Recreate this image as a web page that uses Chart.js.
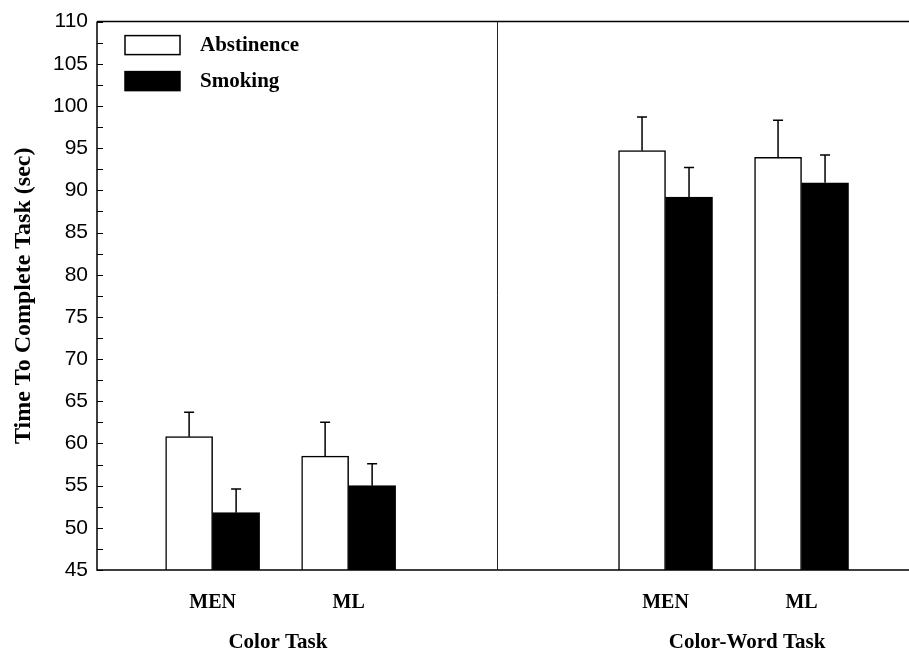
<!DOCTYPE html>
<html>
<head>
<meta charset="utf-8">
<script src="https://cdn.jsdelivr.net/npm/chart.js@4/dist/chart.umd.min.js"></script>
<style>
  html, body { margin: 0; padding: 0; background: #fff; }
  #wrap { width: 909px; height: 653px; }
</style>
</head>
<body>
<div id="wrap"><canvas id="chart" width="909" height="653"></canvas></div>
<script>
// data
const groups = ['MEN', 'ML'];
const tasks = ['Color Task', 'Color-Word Task'];
const abstinence = [60.8, 58.5, 94.7, 93.9];
const abstinenceErr = [2.9, 4.0, 4.0, 4.4];
const smoking = [51.8, 55.0, 89.2, 90.9];
const smokingErr = [2.8, 2.6, 3.5, 3.3];
const yMin = 45, yMax = 110, yStep = 5;

// layout (x positions on a linear axis, one unit = one group spacing)
const xMax = 5.97;
const groupPos = [0.85, 1.85, 4.18, 5.18];
const taskPos = [1.33, 4.78];
const dividerPos = 2.94;

const groupLabels = tasks.flatMap(() => groups);
const serif = '"Liberation Serif", "Times New Roman", serif';
const sans = '"Liberation Sans", Arial, sans-serif';

const framePlugin = {
  id: 'frame',
  afterDatasetsDraw(chart) {
    const { ctx, chartArea: a, scales } = chart;
    const y = scales.y, x = scales.x;
    ctx.save();
    ctx.strokeStyle = '#000';
    ctx.lineWidth = 1.5;
    // error bars (upward only)
    chart.data.datasets.forEach((ds, di) => {
      const meta = chart.getDatasetMeta(di);
      meta.data.forEach((bar, i) => {
        const top = y.getPixelForValue(ds.data[i].y + ds.errors[i]);
        ctx.beginPath();
        ctx.moveTo(bar.x, bar.y);
        ctx.lineTo(bar.x, top);
        ctx.moveTo(bar.x - 5, top);
        ctx.lineTo(bar.x + 5, top);
        ctx.stroke();
      });
    });
    // frame: left, bottom, top
    ctx.beginPath();
    ctx.moveTo(a.left, a.top);
    ctx.lineTo(a.left, a.bottom);
    ctx.lineTo(chart.width, a.bottom);
    ctx.moveTo(a.left, a.top);
    ctx.lineTo(chart.width, a.top);
    ctx.stroke();
    // inward ticks on y
    ctx.lineWidth = 1;
    for (let v = yMin; v <= yMax; v += yStep / 2) {
      const py = Math.round(y.getPixelForValue(v)) + 0.5;
      ctx.beginPath();
      ctx.moveTo(a.left, py);
      ctx.lineTo(a.left + 6, py);
      ctx.stroke();
    }
    // divider between tasks
    const dx = Math.round(x.getPixelForValue(dividerPos)) + 0.5;
    ctx.strokeStyle = '#222';
    ctx.beginPath();
    ctx.moveTo(dx, a.top);
    ctx.lineTo(dx, a.bottom);
    ctx.stroke();
    // legend
    ctx.font = 'bold 21px ' + serif;
    ctx.textBaseline = 'middle';
    chart.data.datasets.forEach((ds, di) => {
      const bx = a.left + 28, by = a.top + 14 + di * 36;
      ctx.fillStyle = ds.backgroundColor;
      ctx.fillRect(bx, by, 55, 19);
      ctx.lineWidth = 1.5;
      ctx.strokeStyle = '#000';
      ctx.strokeRect(bx, by, 55, 19);
      ctx.fillStyle = '#000';
      ctx.fillText(ds.label, bx + 75, by + 10);
    });
    ctx.restore();
  }
};

new Chart(document.getElementById('chart'), {
  type: 'bar',
  data: {
    datasets: [
      {
        label: 'Abstinence',
        data: abstinence.map((v, i) => ({ x: groupPos[i], y: v })),
        errors: abstinenceErr,
        backgroundColor: '#ffffff',
        borderColor: '#000000',
        borderWidth: 1.5
      },
      {
        label: 'Smoking',
        data: smoking.map((v, i) => ({ x: groupPos[i], y: v })),
        errors: smokingErr,
        backgroundColor: '#000000',
        borderColor: '#000000',
        borderWidth: 1.5
      }
    ]
  },
  options: {
    responsive: false,
    animation: false,
    layout: { padding: { top: 18, right: 0, left: 0, bottom: 0 } },
    datasets: { bar: { barThickness: 47, grouped: true } },
    plugins: { legend: { display: false }, tooltip: { enabled: false } },
    scales: {
      x: {
        type: 'linear',
        min: 0,
        max: xMax,
        offset: false,
        weight: 0,
        grid: { display: false, drawTicks: false, offset: false },
        border: { display: false },
        afterBuildTicks: (s) => { s.ticks = groupPos.map(v => ({ value: v })); },
        afterFit: (s) => { s.height = 48; },
        ticks: {
          autoSkip: false,
          maxRotation: 0,
          padding: 21,
          color: '#000',
          font: { family: serif, size: 20, weight: 'bold' },
          callback: (v, i) => groupLabels[i]
        }
      },
      x2: {
        type: 'linear',
        position: 'bottom',
        min: 0,
        max: xMax,
        offset: false,
        weight: 1,
        grid: { display: false, drawTicks: false, offset: false },
        border: { display: false },
        afterBuildTicks: (s) => { s.ticks = taskPos.map(v => ({ value: v })); },
        afterFit: (s) => { s.height = 35; },
        ticks: {
          autoSkip: false,
          maxRotation: 0,
          padding: 12,
          color: '#000',
          font: { family: serif, size: 21, weight: 'bold' },
          callback: (v, i) => tasks[i]
        }
      },
      y: {
        min: yMin,
        max: yMax,
        grid: { display: false, drawTicks: false },
        border: { display: false },
        afterFit: (s) => { s.width = 97; },
        ticks: {
          stepSize: yStep,
          padding: 9,
          color: '#000',
          font: { family: sans, size: 21 }
        },
        title: {
          display: true,
          text: 'Time To Complete Task (sec)',
          color: '#000',
          padding: { top: 9, bottom: 0 },
          font: { family: serif, size: 24, weight: 'bold' }
        }
      }
    }
  },
  plugins: [framePlugin]
});
</script>
</body>
</html>
